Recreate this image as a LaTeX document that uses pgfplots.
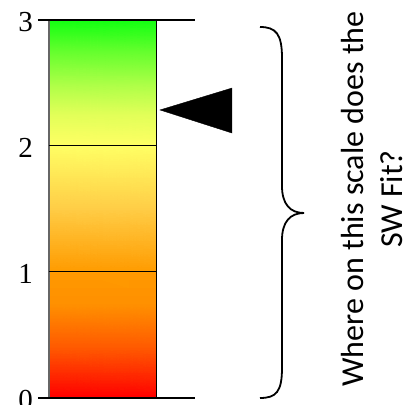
\documentclass[border=0pt]{standalone}
\usepackage{fontspec}
\setmainfont{Carlito}
\newfontfamily\tickfont{Liberation Serif}
\usepackage{pgfplots}
\pgfplotsset{compat=1.18}
\begin{document}
\begin{tikzpicture}
\clip (-38pt,0pt) rectangle (366pt,405pt);
\begin{axis}[
  scale only axis,
  width=366pt, height=405pt,
  xmin=38, xmax=404,
  ymin=-0.05556, ymax=3.15873,
  axis line style={draw=none},
  xtick=\empty,
  ytick={0,1,2,3},
  major tick length=0pt,
  /pgf/number format/assume math mode=true,
  yticklabel={\fontsize{29}{29}\selectfont\tickfont\pgfmathprintnumber[assume math mode=true]{\tick}},
  yticklabel style={anchor=east, inner sep=0pt, xshift=-5pt, yshift=-2pt},
  clip=false,
]
% gradient bar
\addplot[surf, shader=interp, mesh/color input=explicit, mesh/cols=2] table[meta=c] {
x y c
49 0 rgb255=255,0,0
157 0 rgb255=255,0,0
49 0.4 rgb255=255,90,0
157 0.4 rgb255=255,90,0
49 0.75 rgb255=255,145,0
157 0.75 rgb255=255,145,0
49 1 rgb255=255,155,0
157 1 rgb255=255,155,0
49 1.5 rgb255=255,205,70
157 1.5 rgb255=255,205,70
49 2 rgb255=255,255,100
157 2 rgb255=255,255,100
49 2.25 rgb255=225,255,88
157 2.25 rgb255=225,255,88
49 2.5 rgb255=170,255,70
157 2.5 rgb255=170,255,70
49 2.75 rgb255=100,255,45
157 2.75 rgb255=100,255,45
49 3 rgb255=17,255,17
157 3 rgb255=17,255,17
};
% bar edges
\addplot[gray!80!black, line width=1.3pt] coordinates {(49,0) (49,3)};
\addplot[black, line width=1pt] coordinates {(157,0) (157,3)};
% scale lines
\addplot[black, line width=1.2pt] coordinates {(38,0) (195,0)};
\addplot[black, line width=1pt] coordinates {(49,1) (157,1)};
\addplot[black, line width=1pt] coordinates {(49,2) (157,2)};
\addplot[black, line width=1.2pt] coordinates {(38,3) (195,3)};
% pointer
\addplot[fill=black, draw=black] coordinates {(160,2.286) (232,2.46) (232,2.103)} -- cycle;
\end{axis}
\begin{scope}[x=1pt, y=-1pt, shift={(-38pt,405pt)}]
\draw[line width=1.8pt] (260,27) .. controls (276,27) and (282,34) .. (282,58)
  -- (282,186) .. controls (282,204) and (290,213) .. (304,213)
  .. controls (290,213) and (282,222) .. (282,240)
  -- (282,368) .. controls (282,392) and (276,398) .. (260,398);
\node[rotate=90, align=center, inner sep=0pt, font=\fontsize{32}{39}\selectfont] at (372,199) {Where on this scale does the\\SW Fit?};
\end{scope}
\end{tikzpicture}
\end{document}
